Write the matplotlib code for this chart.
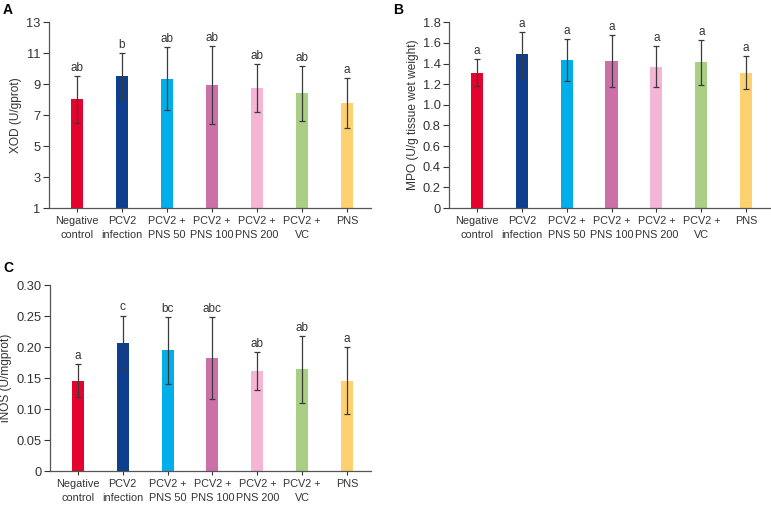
import matplotlib
matplotlib.use('Agg')
import matplotlib.pyplot as plt
import numpy as np

plt.rcParams['font.family'] = ['Liberation Sans', 'DejaVu Sans']

groups = ['Negative\ncontrol', 'PCV2\ninfection', 'PCV2 +\nPNS 50', 'PCV2 +\nPNS 100',
          'PCV2 +\nPNS 200', 'PCV2 +\nVC', 'PNS']
colors = ['#E4032E', '#0E3F8F', '#00AEEA', '#CC70AA', '#F5B5D4', '#A8CF84', '#FDD170']

# panel A - XOD
xod_mean = [8.01, 9.52, 9.34, 8.96, 8.73, 8.42, 7.77]
xod_err = [1.52, 1.47, 2.03, 2.52, 1.55, 1.77, 1.63]
xod_sig = ['ab', 'b', 'ab', 'ab', 'ab', 'ab', 'a']

# panel B - MPO
mpo_mean = [1.313, 1.492, 1.435, 1.425, 1.368, 1.412, 1.313]
mpo_err = [0.130, 0.210, 0.200, 0.248, 0.198, 0.218, 0.158]
mpo_sig = ['a'] * 7

# panel C - iNOS
inos_mean = [0.146, 0.207, 0.195, 0.183, 0.161, 0.164, 0.146]
inos_err = [0.027, 0.044, 0.054, 0.066, 0.031, 0.054, 0.054]
inos_sig = ['a', 'c', 'bc', 'abc', 'ab', 'ab', 'a']

fig = plt.figure(figsize=(7.71, 5.05), dpi=100)

axA = fig.add_axes([0.0636, 0.588, 0.4176, 0.368])
axB = fig.add_axes([0.5824, 0.588, 0.4163, 0.368])
axC = fig.add_axes([0.0649, 0.0673, 0.416, 0.368])

ecol = '#3a3a3a'
tcol = '#333333'


def draw(ax, means, errs, sig, ylim, yticks, ylabel, fmt, bottom=0):
    x = np.arange(len(means))
    heights = [m - bottom for m in means]
    ax.bar(x, heights, bottom=bottom, width=0.27, color=colors, zorder=2)
    ax.errorbar(x, means, yerr=errs, fmt='none', ecolor=ecol, elinewidth=0.9,
                capsize=2.5, capthick=0.9, zorder=3)
    span = ylim[1] - ylim[0]
    for xi, m, e, s in zip(x, means, errs, sig):
        ax.text(xi, m + e + span * 0.012, s, ha='center', va='bottom',
                fontsize=8.5, color=tcol)
    ax.set_xlim(-0.62, 6.53)
    ax.set_ylim(*ylim)
    ax.set_yticks(yticks)
    ax.set_yticklabels([fmt.format(v) if v != 0 else '0' for v in yticks])
    ax.set_xticks(x)
    ax.set_xticklabels(groups, fontsize=7.8, color=tcol, linespacing=1.5)
    ax.tick_params(axis='y', labelsize=9.3, colors=tcol, length=4, width=0.8, pad=2)
    ax.tick_params(axis='x', length=3, width=0.8, pad=3, colors=tcol)
    for sp in ['top', 'right']:
        ax.spines[sp].set_visible(False)
    for sp in ['left', 'bottom']:
        ax.spines[sp].set_color('#555555')
        ax.spines[sp].set_linewidth(0.9)
    ax.set_ylabel(ylabel, fontsize=8.6, color=tcol, labelpad=3)


draw(axA, xod_mean, xod_err, xod_sig, (1, 13), [1, 3, 5, 7, 9, 11, 13],
     'XOD (U/gprot)', '{:g}', bottom=1)
draw(axB, mpo_mean, mpo_err, mpo_sig, (0, 1.8), np.round(np.arange(0, 1.81, 0.2), 1),
     'MPO (U/g tissue wet weight)', '{:.1f}')
draw(axC, inos_mean, inos_err, inos_sig, (0, 0.30), np.round(np.arange(0, 0.301, 0.05), 2),
     'iNOS (U/mgprot)', '{:.2f}')

fig.text(3 / 771, 1 - 10 / 505, 'A', fontsize=10, fontweight='bold', va='center')
fig.text(393 / 771, 1 - 10 / 505, 'B', fontsize=10, fontweight='bold', va='center')
fig.text(3 / 771, 1 - 268 / 505, 'C', fontsize=10, fontweight='bold', va='center')

fig.savefig('out.png', dpi=100)
